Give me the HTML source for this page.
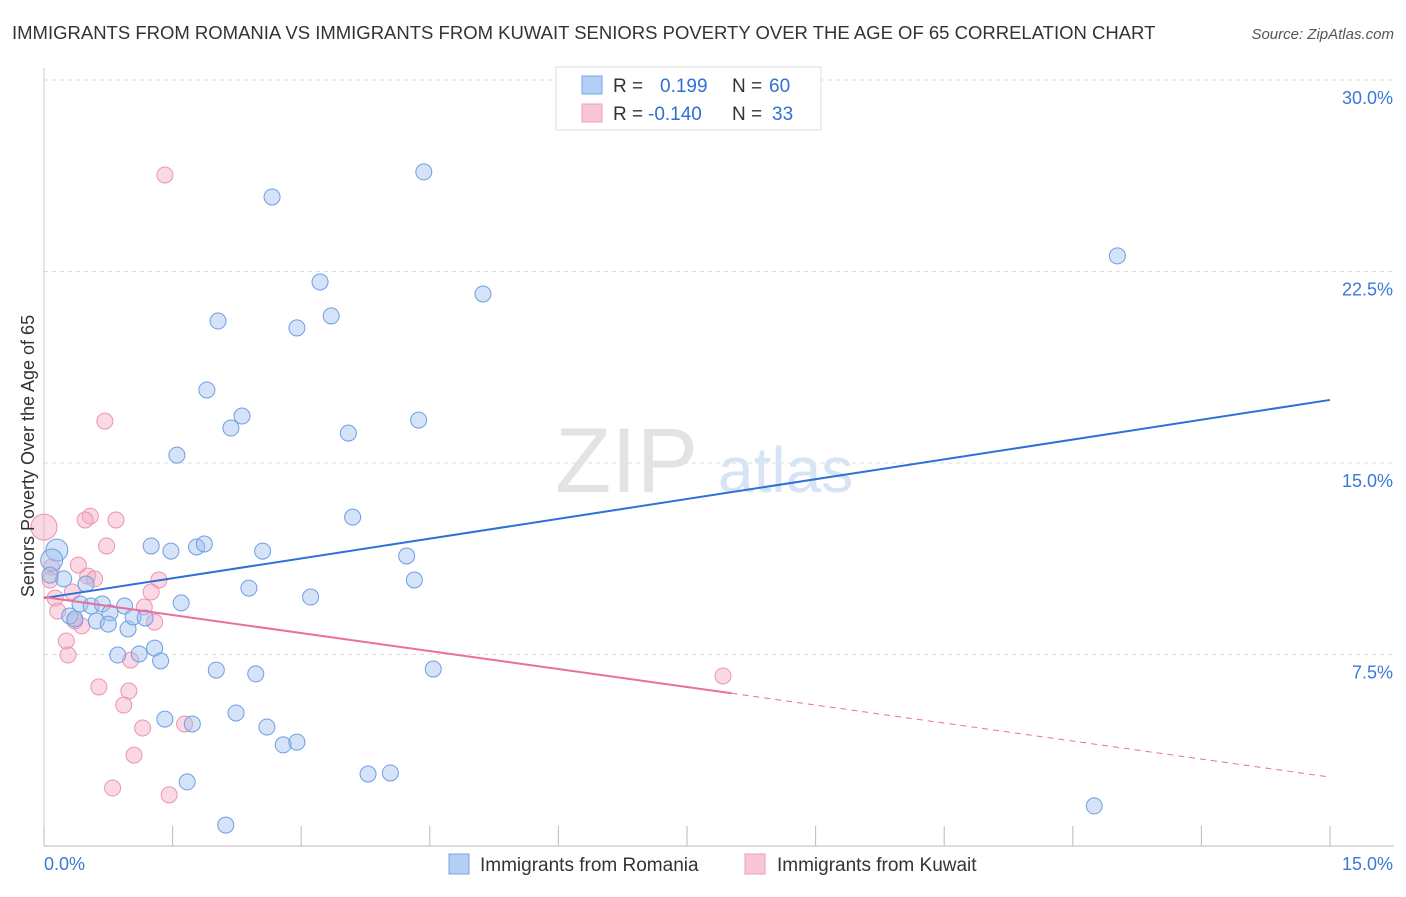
<!DOCTYPE html>
<html><head><meta charset="utf-8">
<style>
body{margin:0;background:#fff;font-family:"Liberation Sans",sans-serif;}
svg text{font-family:"Liberation Sans",sans-serif;}
</style></head>
<body>
<svg width="1406" height="892">
<text x="12" y="39" font-size="18.5" fill="#333">IMMIGRANTS FROM ROMANIA VS IMMIGRANTS FROM KUWAIT SENIORS POVERTY OVER THE AGE OF 65 CORRELATION CHART</text>
<text x="1394" y="39" font-size="15" fill="#555" font-style="italic" text-anchor="end">Source: ZipAtlas.com</text>
<g id="grid"></g>
<g id="axes"></g>
<text x="555" y="492" font-size="92" fill="#e3e3e3" font-family="Liberation Serif">ZIP</text>
<text x="718" y="492" font-size="64" fill="#d6e4f5">atlas</text>
<g id="marks"></g>
<text transform="translate(34,456) rotate(-90)" font-size="18" fill="#333" text-anchor="middle">Seniors Poverty Over the Age of 65</text>
<g>
<rect x="556" y="67" width="265" height="63" fill="#fff" stroke="#ddd"/>
<rect x="582" y="76" width="20" height="18" fill="#b4cff4" stroke="#7aa6e6"/>
<rect x="582" y="104" width="20" height="18" fill="#f9c6d6" stroke="#ee9fb8"/>
<text x="613" y="92" font-size="19" fill="#333">R =</text>
<text x="660" y="92" font-size="19" fill="#2f6fd6">0.199</text>
<text x="732" y="92" font-size="19" fill="#333">N =</text>
<text x="769" y="92" font-size="19" fill="#2f6fd6">60</text>
<text x="613" y="120" font-size="19" fill="#333">R =</text>
<text x="648" y="120" font-size="19" fill="#2f6fd6">-0.140</text>
<text x="732" y="120" font-size="19" fill="#333">N =</text>
<text x="772" y="120" font-size="19" fill="#2f6fd6">33</text>
</g>
<g>
<rect x="449" y="854" width="20" height="20" fill="#b4cff4" stroke="#7aa6e6"/>
<text x="480" y="871" font-size="19" fill="#333">Immigrants from Romania</text>
<rect x="745" y="854" width="20" height="20" fill="#f9c6d6" stroke="#ee9fb8"/>
<text x="777" y="871" font-size="19" fill="#333">Immigrants from Kuwait</text>
</g>
</svg>
<script>
const blueX=[4.43,2.66,12.52,3.22,5.12,2.03,3.35,2.95,1.90,2.31,2.18,3.55,4.37,1.55,3.60,1.25,1.48,1.78,1.87,2.55,4.23,4.32,2.39,3.11,1.60,0.15,0.09,0.23,0.49,0.42,0.55,0.68,0.94,0.30,0.36,0.61,0.77,0.75,0.98,1.04,1.18,1.29,1.11,0.86,1.36,2.01,2.47,4.54,1.41,1.73,2.24,2.60,2.79,2.95,1.67,3.78,4.04,12.25,2.12,0.07];
const blueY=[26.40,25.42,23.11,22.09,21.62,20.56,20.76,20.29,17.86,16.84,16.37,16.17,16.68,15.31,12.88,11.75,11.55,11.71,11.83,11.55,11.36,10.42,10.10,9.75,9.52,11.59,11.20,10.46,10.26,9.48,9.40,9.48,9.40,9.01,8.89,8.81,9.13,8.69,8.50,8.97,8.93,7.75,7.52,7.48,7.25,6.89,6.74,6.93,4.97,4.78,5.21,4.66,3.96,4.07,2.51,2.82,2.86,1.57,0.82,10.61];
const pinkX=[1.41,0.71,0,0.54,0.48,0.84,0.73,0.09,0.40,0.51,0.59,1.34,0.13,0.33,1.25,0.16,1.17,0.36,1.29,0.26,0.44,0.28,1.01,0.64,0.99,0.93,1.15,1.64,1.05,0.80,1.46,7.92,0.07];
const pinkY=[26.28,16.64,12.49,12.92,12.77,12.77,11.75,10.93,11.00,10.57,10.46,10.42,9.71,9.95,9.95,9.20,9.36,8.81,8.77,8.03,8.62,7.48,7.28,6.23,6.07,5.52,4.62,4.78,3.56,2.27,2.00,6.66,10.42];
const bigBlue=[25,26];
const bigPink=[2];
const blueTrend=[9.71,17.47];
const pinkTrend=[9.75,2.70];
const pinkSolidEnd=8.02;
const yTicks=[7.5,15,22.5,30];
const yTickLabels=["7.5%","15.0%","22.5%","30.0%"];
const xTicks=[0,1.5,3,4.5,6,7.5,9,10.5,12,13.5,15];
const X0=44,X1=1330,Y0=846,PPU=191.5/7.5;
const sx=v=>X0+(X1-X0)*v/15;
const sy=v=>Y0-v*PPU;
const NS="http://www.w3.org/2000/svg";
function mk(tag,attrs,parent){const e=document.createElementNS(NS,tag);for(const k in attrs)e.setAttribute(k,attrs[k]);parent.appendChild(e);return e;}
const grid=document.getElementById('grid'),axes=document.getElementById('axes'),marks=document.getElementById('marks');
yTicks.forEach((t,i)=>{
 const l=mk('line',{x1:X0,x2:1394,y1:sy(t),y2:sy(t),stroke:'#ddd','stroke-dasharray':'4,4'},grid);
 
 
 const tx=mk('text',{x:1393,y:sy(t)+24,'font-size':18,fill:'#3b78d8','text-anchor':'end'},axes);
 tx.textContent=yTickLabels[i];
 
 
});
const ax=mk('line',{x1:X0,x2:1394,y1:Y0,y2:Y0,stroke:'#bbb'},axes);


const ay=mk('line',{x1:X0,x2:X0,y1:68,y2:Y0,stroke:'#ccc'},axes);


xTicks.forEach(t=>{
 const l=mk('line',{x1:sx(t),x2:sx(t),y1:826,y2:Y0,stroke:'#bbb'},axes);
 
 
});
const xl=mk('text',{x:44,y:870,'font-size':18,fill:'#3b78d8'},axes);xl.textContent='0.0%';


const xr=mk('text',{x:1393,y:870,'font-size':18,fill:'#3b78d8','text-anchor':'end'},axes);xr.textContent='15.0%';


pinkX.forEach((x,i)=>{
 const c=mk('circle',{cx:sx(x),cy:sy(pinkY[i]),r:bigPink.includes(i)?13:8,fill:'rgba(244,170,196,0.45)',stroke:'#eb94b1','stroke-width':1},marks);
 
 
});
blueX.forEach((x,i)=>{
 const c=mk('circle',{cx:sx(x),cy:sy(blueY[i]),r:bigBlue.includes(i)?11:8,fill:'rgba(160,192,238,0.45)',stroke:'#6e9ee2','stroke-width':1},marks);
 
 
});
const bt=mk('line',{x1:sx(0),y1:sy(blueTrend[0]),x2:sx(15),y2:sy(blueTrend[1]),stroke:'#2f6fd6','stroke-width':2},marks);


const pAt=x=>pinkTrend[0]+(pinkTrend[1]-pinkTrend[0])*x/15;
const pt=mk('line',{x1:sx(0),y1:sy(pinkTrend[0]),x2:sx(pinkSolidEnd),y2:sy(pAt(pinkSolidEnd)),stroke:'#e8709a','stroke-width':2},marks);


const pd=mk('line',{x1:sx(pinkSolidEnd),y1:sy(pAt(pinkSolidEnd)),x2:sx(15),y2:sy(pinkTrend[1]),stroke:'#e8709a','stroke-width':1,'stroke-dasharray':'6,5'},marks);


</script>
</body></html>
